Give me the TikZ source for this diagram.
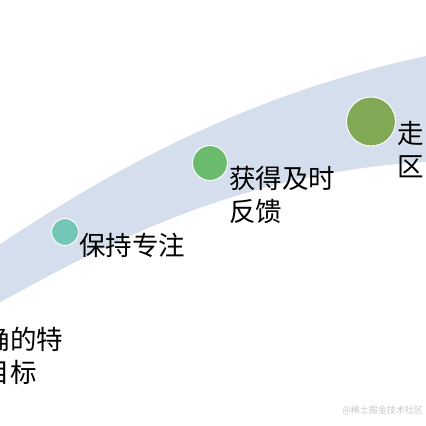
\documentclass[tikz,border=0pt]{standalone}
\usepackage{fontspec}
\newfontfamily\cjk{Noto Sans CJK SC}
\definecolor{bandc}{HTML}{D5DEEC}
\definecolor{tealc}{HTML}{74C6B8}
\definecolor{midg}{HTML}{6BBB6C}
\definecolor{bigg}{HTML}{80A855}
\definecolor{wmark}{HTML}{C8C8C8}
\tikzset{
  dot/.style={circle, draw=white, line width=1pt, inner sep=0pt},
  label/.style={inner sep=0pt, anchor=west, align=left, font=\cjk\fontsize{26.5pt}{33pt}\selectfont, text=black},
}
\begin{document}
\begin{tikzpicture}[x=1pt,y=1pt]
\useasboundingbox (0,0) rectangle (426,426);
\clip (0,0) rectangle (426,426);
\fill[white] (0,0) rectangle (426,426);
% band
\fill[bandc] (-10,175) .. controls (125,266) and (260,336) .. (440,373)
  -- (440,265) .. controls (250,256) and (120,191) .. (-10,118) -- cycle;
% circles
\node[dot, fill=tealc, minimum size=27pt] (c1) at (65,194) {};
\node[dot, fill=midg, minimum size=35pt] (c2) at (210,263) {};
\node[dot, fill=bigg, minimum size=49pt] (c3) at (371,304.5) {};
% labels
\node[label] (t0) at (-43,70.5) {明确的特\\定目标};
\node[label] (t1) at (79,181) {保持专注};
\node[label] (t2) at (229,231.5) {获得及时\\反馈};
\begin{scope}
\clip (0,0) rectangle (423.5,426);
\node[label] (t3) at (397.5,276.5) {走出舒适\\区};
\end{scope}
% watermark
\node[inner sep=0pt, anchor=east, font=\cjk\fontsize{9pt}{10pt}\selectfont, text=wmark] (wm) at (423,16) {@稀土掘金技术社区};
\end{tikzpicture}
\end{document}
